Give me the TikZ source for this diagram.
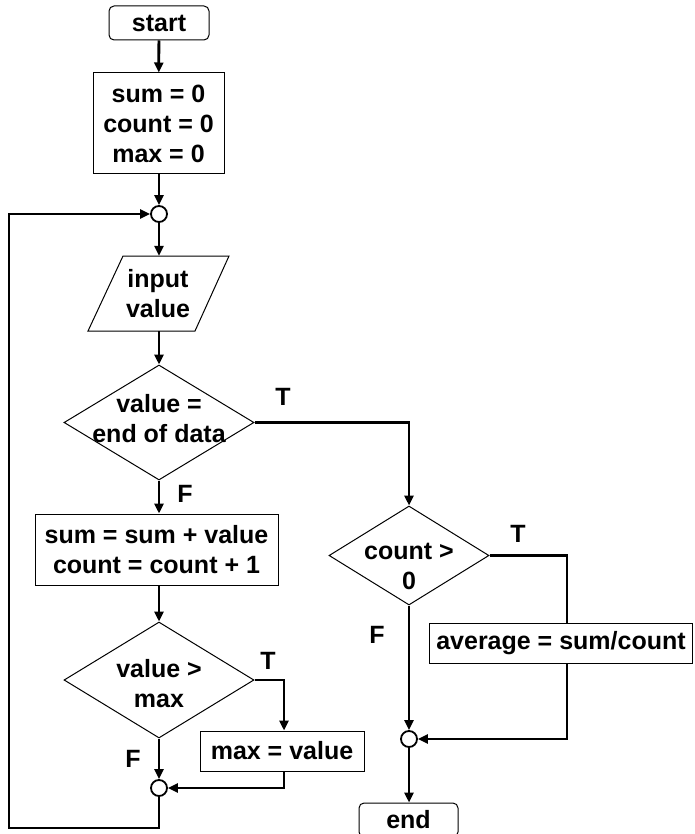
\documentclass[tikz,border=0pt]{standalone}
\usepackage{fontspec}
\setmainfont{Liberation Sans}
\usetikzlibrary{shapes.geometric,arrows.meta}
\tikzset{
  txt/.style={font=\fontsize{25}{30}\selectfont\bfseries, align=center, inner sep=0pt},
  proc/.style={txt, draw, line width=1pt, rectangle},
  term/.style={proc, rounded corners=5pt},
  dia/.style={draw, line width=1pt, diamond, inner sep=0pt},
  conn/.style={draw, circle, line width=1.8pt, minimum size=16pt, inner sep=0pt, fill=white},
  arr/.style={line width=2.8pt, -{Triangle[length=10pt,width=9pt]}},
  plain/.style={line width=2.8pt},
  lbl/.style={font=\fontsize{25}{30}\selectfont\bfseries, inner sep=0pt}
}
\begin{document}
\begin{tikzpicture}[x=1pt,y=-1pt]
\useasboundingbox (0,0) rectangle (694,834);
% nodes
\node[term, minimum width=100pt, minimum height=34pt] (start) at (159,23) {start};
\node[proc, minimum width=131pt, minimum height=101pt] (init) at (158.5,123.5) {sum = 0\\count = 0\\max = 0};
\node[conn] (c1) at (159,214) {};
\draw[line width=1pt] (123,256) -- (229,256) -- (195,331) -- (88,331) -- cycle;
\node[minimum width=1pt, minimum height=75pt, inner sep=0pt] (inp) at (159,293.5) {};
\node[txt] (inpt) at (158,294) {input\\value};
\node[dia, minimum width=190pt, minimum height=115pt] (d1) at (159,422.5) {};
\node[txt] (d1t) at (159,419) {value =\\end of data};
\node[proc, minimum width=243pt, minimum height=71pt] (b1) at (156.5,549.5) {sum = sum + value\\count = count + 1};
\node[dia, minimum width=190pt, minimum height=116pt] (d3) at (159,680) {};
\node[txt] (d3t) at (159,684) {value >\\max};
\node[proc, minimum width=164pt, minimum height=40pt] (mx) at (282,751) {max = value};
\node[conn] (c2) at (159,788) {};
\node[dia, minimum width=160pt, minimum height=99pt] (d2) at (409,555.5) {};
\node[txt] (d2t) at (409,566) {count >\\0};
\node[proc, minimum width=263pt, minimum height=40pt] (avg) at (561,643) {average = sum/count};
\node[conn] (c3) at (409,739) {};
\node[term, minimum width=99pt, minimum height=34pt] (end) at (408.5,820) {end};
% labels
\node[lbl] (t1) at (283,397) {T};
\node[lbl] (f1) at (185,494) {F};
\node[lbl] (t3) at (268,661) {T};
\node[lbl] (f3) at (133,759) {F};
\node[lbl] (t2) at (518,534) {T};
\node[lbl] (f2) at (377,635) {F};
% helper coordinates
\coordinate (lp) at (9,828);
\coordinate (tx) at (567,0);
\coordinate (mxx) at (284,0);
% connectors
\draw[arr] (start) -- (init);
\draw[arr] (init.south -| c1) -- (c1);
\draw[arr] (c1) -- (inp.north);
\draw[arr] (inp.south) -- (d1.north);
\draw[arr] (d1.east) -| (d2.north);
\draw[arr] (d1.south) -- (d1.south |- b1.north);
\draw[arr] (b1.south -| d3) -- (d3.north);
\draw[arr] (d3.east) -| (mx.north -| mxx);
\draw[arr] (mx.south -| mxx) |- (c2.east);
\draw[arr] (d3.south) -- (c2.north);
\draw[arr] (c2.south) -- (c2.south |- lp) -- (lp) |- (c1.west);
\draw[plain] (d2.east) -| (avg.north -| tx);
\draw[arr] (avg.south -| tx) |- (c3.east);
\draw[arr] (d2.south) -- (d2.south |- c3.north);
\draw[arr] (c3.south) -- (c3.south |- end.north);
\end{tikzpicture}
\end{document}
